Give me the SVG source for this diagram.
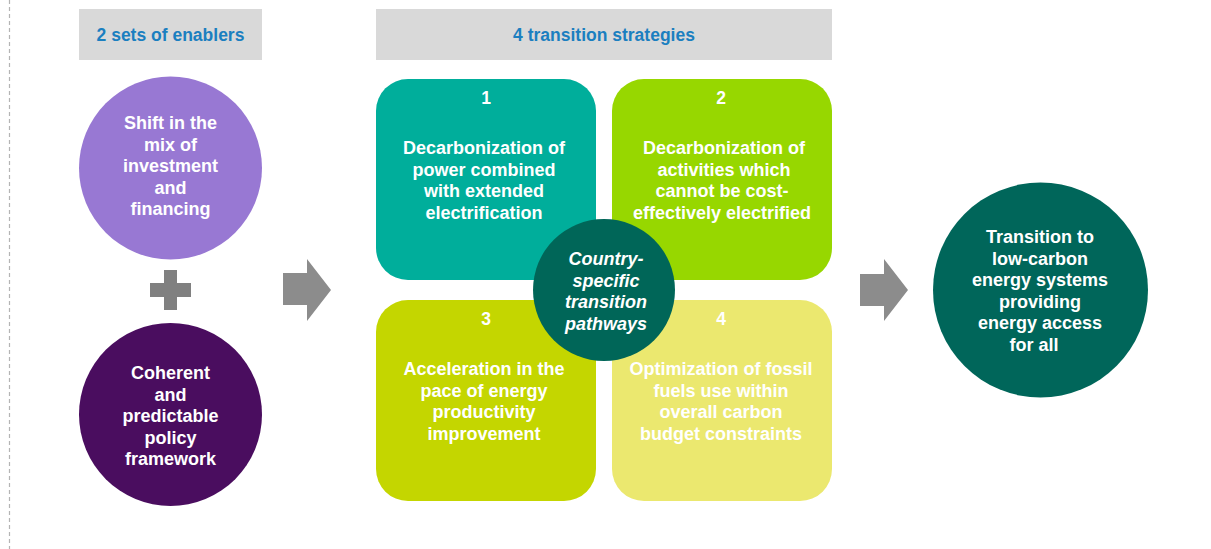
<svg xmlns="http://www.w3.org/2000/svg" width="1211" height="549" viewBox="0 0 1211 549">
  <style>
    text { font-family: "Liberation Sans", Arial, sans-serif; font-weight: bold; text-anchor: middle; }
    .hdr { fill: #1b7fc0; font-size: 17.5px; }
    .lbl { fill: #ffffff; font-size: 18px; }
    .num { fill: #ffffff; font-size: 17.5px; }
    .ital { fill: #ffffff; font-size: 18px; font-style: italic; }
    .hdrbox { fill: #d9d9d9; }
    .arrow { fill: #8c8c8c; }
  </style>

  <!-- page margin guide -->
  <line x1="9.5" y1="0" x2="9.5" y2="549" stroke="#b4b4b4" stroke-width="1.2" stroke-dasharray="4 3"/>

  <!-- section headers -->
  <g id="header-enablers">
    <rect class="hdrbox" x="79" y="9" width="183" height="51"/>
    <text class="hdr" x="170.5" y="41">2 sets of enablers</text>
  </g>
  <g id="header-strategies">
    <rect class="hdrbox" x="376" y="9" width="456" height="51"/>
    <text class="hdr" x="604" y="41">4 transition strategies</text>
  </g>

  <!-- enablers -->
  <g id="enabler-investment">
    <circle cx="170.5" cy="168" r="91.5" fill="#9878d3"/>
    <text class="lbl" x="170.5" y="129">Shift in the</text>
    <text class="lbl" x="170.5" y="150.5">mix of</text>
    <text class="lbl" x="170.5" y="172">investment</text>
    <text class="lbl" x="170.5" y="193.5">and</text>
    <text class="lbl" x="170.5" y="215">financing</text>
  </g>

  <g id="plus">
    <path fill="#808080" d="M164,270 H177 V283 H191 V297 H177 V310 H164 V297 H150 V283 H164 Z"/>
  </g>

  <g id="enabler-policy">
    <circle cx="170.5" cy="414.5" r="91.5" fill="#4a0d5f"/>
    <text class="lbl" x="170.5" y="379">Coherent</text>
    <text class="lbl" x="170.5" y="400.5">and</text>
    <text class="lbl" x="170.5" y="422">predictable</text>
    <text class="lbl" x="170.5" y="443.5">policy</text>
    <text class="lbl" x="170.5" y="465">framework</text>
  </g>

  <!-- flow arrows -->
  <g id="connectors">
    <path class="arrow" d="M283,273 H307 V259 L331,290 L307,321 V305 H283 Z"/>
    <path class="arrow" d="M860,274 H884 V259 L908,290 L884,321 V306 H860 Z"/>
  </g>

  <!-- strategies -->
  <g id="strategy-1">
    <rect x="376" y="79" width="220" height="201" rx="32" fill="#00ae9b"/>
    <text class="num" x="486" y="104">1</text>
    <text class="lbl" x="484" y="154">Decarbonization of</text>
    <text class="lbl" x="484" y="175.5">power combined</text>
    <text class="lbl" x="484" y="197">with extended</text>
    <text class="lbl" x="484" y="218.5">electrification</text>
  </g>

  <g id="strategy-2">
    <rect x="612" y="79" width="220" height="201" rx="32" fill="#97d700"/>
    <text class="num" x="721" y="104">2</text>
    <text class="lbl" x="724" y="154">Decarbonization of</text>
    <text class="lbl" x="724" y="175.5">activities which</text>
    <text class="lbl" x="722" y="197">cannot be cost-</text>
    <text class="lbl" x="722" y="218.5">effectively electrified</text>
  </g>

  <g id="strategy-3">
    <rect x="376" y="300" width="220" height="201" rx="32" fill="#c4d600"/>
    <text class="num" x="486" y="325">3</text>
    <text class="lbl" x="484" y="375">Acceleration in the</text>
    <text class="lbl" x="484" y="396.5">pace of energy</text>
    <text class="lbl" x="484" y="418">productivity</text>
    <text class="lbl" x="484" y="439.5">improvement</text>
  </g>

  <g id="strategy-4">
    <rect x="612" y="300" width="220" height="201" rx="32" fill="#ebe86f"/>
    <text class="num" x="721" y="325">4</text>
    <text class="lbl" x="721" y="375">Optimization of fossil</text>
    <text class="lbl" x="721" y="396.5">fuels use within</text>
    <text class="lbl" x="721" y="418">overall carbon</text>
    <text class="lbl" x="721" y="439.5">budget constraints</text>
  </g>

  <g id="pathways">
    <circle cx="604" cy="290" r="71" fill="#006658"/>
    <text class="ital" x="606" y="265">Country-</text>
    <text class="ital" x="606" y="286.5">specific</text>
    <text class="ital" x="606" y="308">transition</text>
    <text class="ital" x="606" y="329.5">pathways</text>
  </g>

  <!-- outcome -->
  <g id="outcome">
    <circle cx="1040.5" cy="290" r="107.5" fill="#00665a"/>
    <text class="lbl" x="1040" y="243">Transition to</text>
    <text class="lbl" x="1040" y="264.5">low-carbon</text>
    <text class="lbl" x="1040" y="286">energy systems</text>
    <text class="lbl" x="1040" y="307.5">providing</text>
    <text class="lbl" x="1040" y="329">energy access</text>
    <text class="lbl" x="1034" y="350.5">for all</text>
  </g>
</svg>
